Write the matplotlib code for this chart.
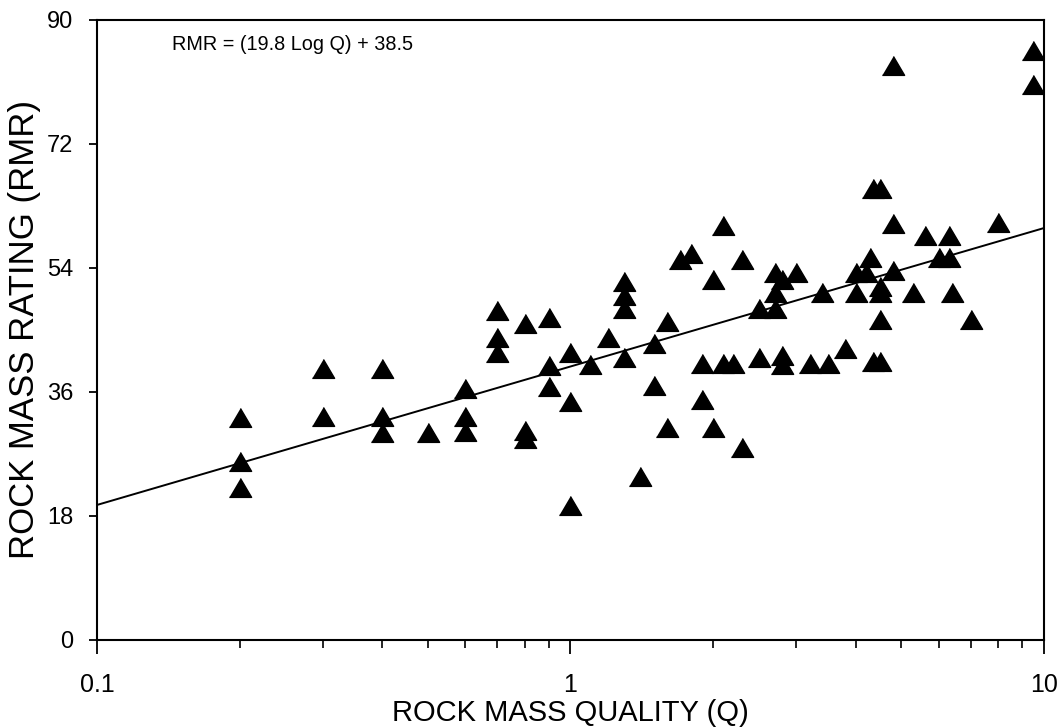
import numpy as np
import matplotlib
matplotlib.use("Agg")
import matplotlib.pyplot as plt

plt.rcParams['font.family'] = ['Liberation Sans', 'DejaVu Sans']

# rock mass quality Q and rock mass rating RMR
q_values = [0.2, 0.2, 0.2,
            0.3, 0.3,
            0.4, 0.4, 0.4,
            0.5,
            0.6, 0.6, 0.6,
            0.7, 0.7, 0.7,
            0.8, 0.8, 0.8,
            0.9, 0.9, 0.9,
            1.0, 1.0, 1.0,
            1.1, 1.2,
            1.3, 1.3, 1.3, 1.3,
            1.4,
            1.5, 1.5,
            1.6, 1.6,
            1.7, 1.8,
            1.9, 1.9,
            2.0, 2.0,
            2.1, 2.1,
            2.2,
            2.3, 2.3,
            2.5, 2.5,
            2.7, 2.7, 2.7,
            2.8, 2.8, 2.8,
            3.0, 3.2, 3.4, 3.5, 3.8,
            4.0, 4.0, 4.2, 4.3,
            4.35, 4.35,
            4.5, 4.5, 4.5, 4.5, 4.5,
            4.8, 4.8, 4.8,
            5.3, 5.6, 6.0,
            6.3, 6.3, 6.4,
            7.0, 8.0,
            9.5, 9.5]
rmr_values = [32.2, 25.9, 22.0,
              39.4, 32.3,
              39.4, 32.3, 30.1,
              30.1,
              36.4, 32.4, 30.2,
              47.7, 43.8, 41.6,
              45.8, 30.4, 29.2,
              46.8, 39.7, 36.7,
              41.7, 34.6, 19.4,
              39.9, 43.9,
              52.0, 49.9, 48.0, 40.9,
              23.6,
              42.9, 36.8,
              46.1, 30.7,
              55.1, 56.1,
              40.0, 34.8,
              52.2, 30.7,
              60.1, 40.0,
              40.0,
              55.2, 27.8,
              48.1, 41.0,
              53.2, 50.3, 48.1,
              52.3, 41.2, 39.9,
              53.2, 40.1, 50.3, 40.1, 42.3,
              53.3, 50.3, 53.3, 55.4,
              65.4, 40.3,
              65.4, 51.2, 50.3, 46.4, 40.3,
              83.3, 60.4, 53.5,
              50.3, 58.6, 55.5,
              58.6, 55.5, 50.4,
              46.5, 60.6,
              85.5, 80.6]

# regression line as drawn on the chart
line_q = [0.1, 10]
line_rmr = [19.6, 59.8]

y_ticks = [0, 18, 36, 54, 72, 90]

fig = plt.figure(figsize=(10.61, 7.27), dpi=100)
ax = fig.add_axes([0.0914, 0.1197, 0.8926, 0.8528])

tri = [(-1, -0.8), (1, -0.8), (0, 0.9)]
ax.plot(q_values, rmr_values, linestyle='none', marker=tri, markersize=16,
        color='black', zorder=3)
ax.plot(line_q, line_rmr, color='black', linewidth=1.4, zorder=2)

ax.set_xscale('log')
ax.set_xlim(0.1, 10)
ax.set_ylim(0, 90)
ax.set_yticks(y_ticks)
ax.set_xticks([0.1, 1, 10])
ax.set_xticklabels(['0.1', '1', '10'])

for s in ax.spines.values():
    s.set_linewidth(1.5)

ax.tick_params(axis='x', which='major', direction='out', length=10, width=1.3,
               pad=14, labelsize=18)
ax.tick_params(axis='x', which='minor', direction='out', length=6, width=1.2,
               labelbottom=False)
ax.tick_params(axis='y', direction='out', length=6, width=1.3, pad=11,
               labelsize=17)

ax.set_xlabel('ROCK MASS QUALITY (Q)', fontsize=21, labelpad=1)
ax.set_ylabel('ROCK MASS RATING (RMR)', fontsize=25, labelpad=4)

ax.text(0.144, 86.5, 'RMR = (19.8 Log Q) + 38.5', fontsize=14.3, va='center')

fig.savefig('out.png', dpi=100)
